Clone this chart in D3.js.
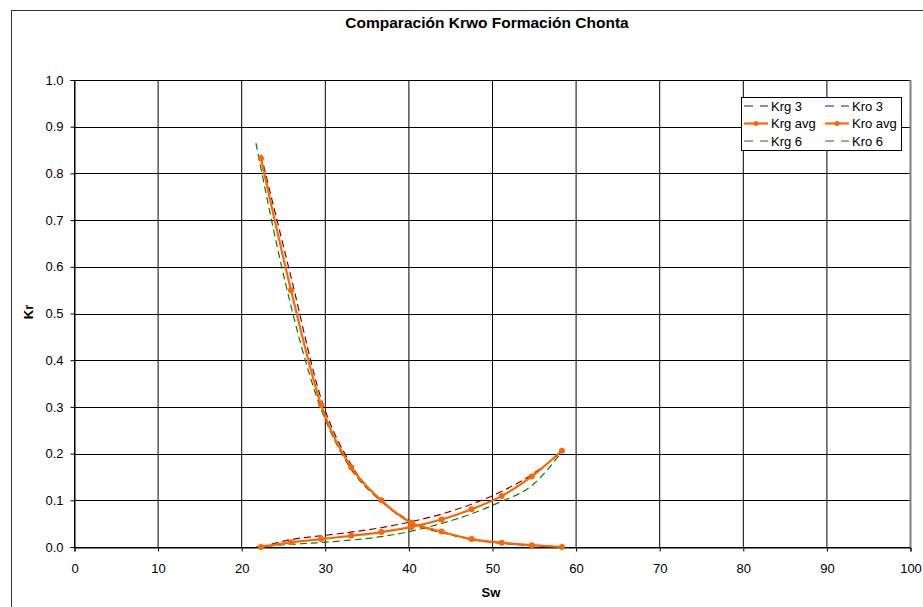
<!DOCTYPE html>
<html>
<head>
<meta charset="utf-8">
<script src="https://cdn.jsdelivr.net/npm/d3@7"></script>
<style>
  body { margin: 0; background: #fff; }
  svg { font-family: "Liberation Sans", Arial, sans-serif; }
</style>
</head>
<body>
<svg id="chart" width="923" height="607"></svg>
<script>
// data
const swAvg = [22.3, 25.9, 29.5, 33.1, 36.7, 40.3, 43.9, 47.5, 51.1, 54.7, 58.3]
const krgAvg = [0, 0.010, 0.017, 0.024, 0.032, 0.043, 0.059, 0.081, 0.109, 0.151, 0.206]
const kroAvg = [0.832, 0.550, 0.304, 0.171, 0.100, 0.052, 0.033, 0.017, 0.009, 0.004, 0]

const sw3 = [22.3, 26.2, 30.0, 33.6, 37.2, 40.7, 44.2, 47.7, 51.2, 54.8, 58.3]
const krg3 = [0, 0.017, 0.025, 0.033, 0.043, 0.056, 0.072, 0.093, 0.120, 0.156, 0.204]
const kro3 = [0.84, 0.578, 0.318, 0.176, 0.099, 0.051, 0.031, 0.016, 0.008, 0.003, 0]

const sw6 = [21.7, 25.3, 29.0, 32.6, 36.2, 39.8, 43.4, 47.0, 50.6, 55.0, 58.3]
const krg6 = [0, 0.005, 0.009, 0.014, 0.021, 0.032, 0.048, 0.068, 0.094, 0.136, 0.204]
const kro6 = [0.865, 0.56, 0.32, 0.18, 0.105, 0.06, 0.035, 0.019, 0.010, 0.004, 0]

const xTicks = [0, 10, 20, 30, 40, 50, 60, 70, 80, 90, 100]
const yTicks = [0, 0.1, 0.2, 0.3, 0.4, 0.5, 0.6, 0.7, 0.8, 0.9, 1.0]

const series = [
  {name: "Krg 3", x: sw3, y: krg3, color: "#800000", dash: "7,4", marker: false},
  {name: "Kro 3", x: swAvg, y: kro3, color: "#800000", dash: "7,4", marker: false},
  {name: "Krg 6", x: sw6, y: krg6, color: "#008000", dash: "7,4", marker: false},
  {name: "Kro 6", x: sw6, y: kro6, color: "#008000", dash: "7,4", marker: false},
  {name: "Krg avg", x: swAvg, y: krgAvg, color: "#FF6600", dash: null, marker: true},
  {name: "Kro avg", x: swAvg, y: kroAvg, color: "#FF6600", dash: null, marker: true}
]

const svg = d3.select("#chart")

// outer chart frame (runs off the page on the right and bottom)
svg.append("rect").attr("x", 11.5).attr("y", 10.5).attr("width", 1000).attr("height", 700)
  .attr("fill", "#fff").attr("stroke", "#333").attr("stroke-width", 1)

const x = d3.scaleLinear().domain([0, 100]).range([74.5, 910.5])
const y = d3.scaleLinear().domain([0, 1]).range([547, 80])

// gridlines
svg.append("g").selectAll(".hgrid").data(yTicks).join("line").attr("class", "hgrid")
  .attr("x1", x(0)).attr("x2", x(100))
  .attr("y1", d => Math.round(y(d)) + 0.5).attr("y2", d => Math.round(y(d)) + 0.5)
  .attr("stroke", "#000").attr("stroke-width", 1)
svg.append("g").selectAll(".vgrid").data(xTicks).join("line").attr("class", "vgrid")
  .attr("x1", d => x(d)).attr("x2", d => x(d))
  .attr("y1", y(1)).attr("y2", y(0))
  .attr("stroke", "#000").attr("stroke-width", 1)
svg.append("line").attr("x1", x(100)).attr("x2", x(100)).attr("y1", y(1)).attr("y2", y(0))
  .attr("stroke", "#808080").attr("stroke-width", 2)

// axes
svg.append("g").attr("transform", "translate(" + x(0) + ",0)")
  .call(d3.axisLeft(y).tickValues(yTicks).tickFormat(d3.format(".1f")).tickSize(4).tickPadding(7))
svg.append("g").attr("transform", "translate(0," + (Math.round(y(0)) + 0.5) + ")")
  .call(d3.axisBottom(x).tickValues(xTicks).tickSize(4).tickPadding(12))
svg.selectAll(".domain").attr("stroke", "#000")
svg.selectAll(".tick line").attr("stroke", "#000")
svg.selectAll(".tick text").attr("font-size", 13).attr("fill", "#000")
  .attr("font-family", "Liberation Sans, Arial, sans-serif")

// curves
const line = d3.line().x(d => x(d[0])).y(d => y(d[1])).curve(d3.curveMonotoneX)
series.forEach(s => {
  const pts = s.x.map((v, i) => [v, s.y[i]])
  svg.append("path").attr("d", line(pts))
    .attr("fill", "none").attr("stroke", s.color)
    .attr("stroke-width", s.marker ? 2.2 : 1.2)
    .attr("stroke-dasharray", s.dash)
  if (s.marker) {
    svg.append("g").selectAll("circle").data(pts).join("circle")
      .attr("cx", d => x(d[0])).attr("cy", d => y(d[1])).attr("r", 3)
      .attr("fill", s.color)
  }
})

// titles
svg.append("text").attr("x", 487).attr("y", 28).attr("text-anchor", "middle")
  .attr("font-size", 15.5).attr("font-weight", "bold").text("Comparación Krwo Formación Chonta")
svg.append("text").attr("x", 491).attr("y", 597).attr("text-anchor", "middle")
  .attr("font-size", 13).attr("font-weight", "bold").text("Sw")
svg.append("text").attr("transform", "translate(33,312) rotate(-90)").attr("text-anchor", "middle")
  .attr("font-size", 13).attr("font-weight", "bold").text("Kr")

// legend
const legend = svg.append("g")
legend.append("rect").attr("x", 741.5).attr("y", 97.5).attr("width", 160).attr("height", 53)
  .attr("fill", "#fff").attr("stroke", "#000").attr("stroke-width", 1)
const legendRows = [["Krg 3", "Kro 3"], ["Krg avg", "Kro avg"], ["Krg 6", "Kro 6"]]
const legendCols = [744, 825]
legendRows.forEach((row, r) => {
  row.forEach((name, c) => {
    const s = series.find(d => d.name === name)
    const ly = 106 + r * 17.5
    const lx = legendCols[c]
    legend.append("line").attr("x1", lx).attr("x2", lx + 24).attr("y1", ly).attr("y2", ly)
      .attr("stroke", s.color).attr("stroke-width", s.marker ? 2.2 : 1.2)
      .attr("stroke-dasharray", s.marker ? null : "9,7")
    if (s.marker) {
      legend.append("circle").attr("cx", lx + 12).attr("cy", ly).attr("r", 2.5).attr("fill", s.color)
    }
    legend.append("text").attr("x", lx + 27).attr("y", ly + 4.5).attr("font-size", 13)
      .text(name)
  })
})
</script>
</body>
</html>
